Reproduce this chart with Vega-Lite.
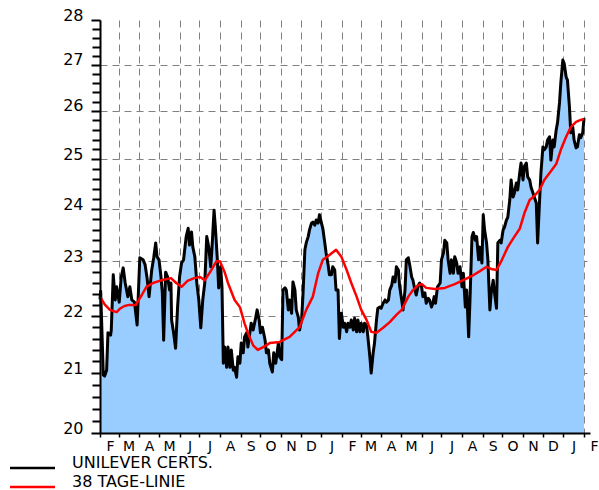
{
  "$schema": "https://vega.github.io/schema/vega-lite/v6.json",
  "autosize": {"type": "none"},
  "padding": {"left": 100, "top": 20, "right": 9, "bottom": 57},
  "width": 490,
  "height": 413,
  "background": "white",
  "config": {"view": {"stroke": null}},
  "datasets": {
    "price": [
      {"date": "2010-02-01", "value": 22.30}, {"date": "2010-02-02", "value": 22.45}, {"date": "2010-02-06", "value": 20.97},
      {"date": "2010-02-08", "value": 20.95}, {"date": "2010-02-11", "value": 21.05}, {"date": "2010-02-13", "value": 21.70},
      {"date": "2010-02-17", "value": 21.66}, {"date": "2010-02-18", "value": 21.75}, {"date": "2010-02-21", "value": 22.75},
      {"date": "2010-02-23", "value": 22.43}, {"date": "2010-02-24", "value": 22.29}, {"date": "2010-02-26", "value": 22.53},
      {"date": "2010-03-02", "value": 22.25}, {"date": "2010-03-05", "value": 22.71}, {"date": "2010-03-08", "value": 22.88},
      {"date": "2010-03-11", "value": 22.60}, {"date": "2010-03-15", "value": 22.35}, {"date": "2010-03-18", "value": 22.53},
      {"date": "2010-03-21", "value": 22.29}, {"date": "2010-03-25", "value": 22.25}, {"date": "2010-03-29", "value": 21.84},
      {"date": "2010-04-02", "value": 23.07}, {"date": "2010-04-07", "value": 23.03}, {"date": "2010-04-10", "value": 22.94},
      {"date": "2010-04-13", "value": 22.69}, {"date": "2010-04-16", "value": 22.35}, {"date": "2010-04-20", "value": 22.84},
      {"date": "2010-04-23", "value": 23.07}, {"date": "2010-04-26", "value": 23.35}, {"date": "2010-04-28", "value": 23.09},
      {"date": "2010-05-01", "value": 23.03}, {"date": "2010-05-04", "value": 22.71}, {"date": "2010-05-06", "value": 22.42},
      {"date": "2010-05-08", "value": 21.57}, {"date": "2010-05-11", "value": 22.80}, {"date": "2010-05-14", "value": 22.71},
      {"date": "2010-05-17", "value": 22.47}, {"date": "2010-05-19", "value": 22.60}, {"date": "2010-05-20", "value": 21.93},
      {"date": "2010-05-23", "value": 21.70}, {"date": "2010-05-26", "value": 21.43}, {"date": "2010-05-29", "value": 22.16},
      {"date": "2010-06-01", "value": 22.71}, {"date": "2010-06-04", "value": 22.97}, {"date": "2010-06-07", "value": 23.03},
      {"date": "2010-06-11", "value": 23.47}, {"date": "2010-06-14", "value": 23.63}, {"date": "2010-06-16", "value": 23.31},
      {"date": "2010-06-19", "value": 23.56}, {"date": "2010-06-21", "value": 23.27}, {"date": "2010-06-24", "value": 23.09},
      {"date": "2010-06-27", "value": 22.60}, {"date": "2010-06-30", "value": 22.29}, {"date": "2010-07-03", "value": 21.79},
      {"date": "2010-07-06", "value": 22.29}, {"date": "2010-07-09", "value": 22.60}, {"date": "2010-07-12", "value": 23.47},
      {"date": "2010-07-15", "value": 23.27}, {"date": "2010-07-18", "value": 22.90}, {"date": "2010-07-20", "value": 23.27},
      {"date": "2010-07-23", "value": 23.98}, {"date": "2010-07-25", "value": 23.65}, {"date": "2010-07-28", "value": 23.03},
      {"date": "2010-07-30", "value": 22.51}, {"date": "2010-08-02", "value": 22.90}, {"date": "2010-08-04", "value": 22.51},
      {"date": "2010-08-06", "value": 21.17}, {"date": "2010-08-08", "value": 21.45}, {"date": "2010-08-11", "value": 21.10},
      {"date": "2010-08-13", "value": 21.45}, {"date": "2010-08-16", "value": 21.10}, {"date": "2010-08-18", "value": 21.40},
      {"date": "2010-08-21", "value": 21.05}, {"date": "2010-08-23", "value": 21.10}, {"date": "2010-08-26", "value": 20.93},
      {"date": "2010-08-28", "value": 21.28}, {"date": "2010-08-31", "value": 21.17}, {"date": "2010-09-02", "value": 21.52},
      {"date": "2010-09-05", "value": 21.35}, {"date": "2010-09-07", "value": 21.63}, {"date": "2010-09-10", "value": 21.70},
      {"date": "2010-09-12", "value": 21.45}, {"date": "2010-09-15", "value": 21.70}, {"date": "2010-09-17", "value": 21.87},
      {"date": "2010-09-20", "value": 21.75}, {"date": "2010-09-24", "value": 21.98}, {"date": "2010-09-26", "value": 22.11},
      {"date": "2010-09-29", "value": 21.93}, {"date": "2010-10-01", "value": 21.70}, {"date": "2010-10-04", "value": 21.80},
      {"date": "2010-10-07", "value": 21.63}, {"date": "2010-10-08", "value": 21.57}, {"date": "2010-10-10", "value": 21.35},
      {"date": "2010-10-13", "value": 21.40}, {"date": "2010-10-15", "value": 21.17}, {"date": "2010-10-19", "value": 21.02},
      {"date": "2010-10-21", "value": 21.35}, {"date": "2010-10-24", "value": 21.17}, {"date": "2010-10-28", "value": 21.52},
      {"date": "2010-10-30", "value": 21.28}, {"date": "2010-11-02", "value": 21.23}, {"date": "2010-11-04", "value": 22.47},
      {"date": "2010-11-07", "value": 22.51}, {"date": "2010-11-09", "value": 22.47}, {"date": "2010-11-12", "value": 22.11},
      {"date": "2010-11-14", "value": 22.29}, {"date": "2010-11-17", "value": 22.05}, {"date": "2010-11-19", "value": 22.62},
      {"date": "2010-11-22", "value": 22.47}, {"date": "2010-11-24", "value": 22.11}, {"date": "2010-11-27", "value": 21.98},
      {"date": "2010-11-29", "value": 21.75}, {"date": "2010-12-02", "value": 21.93}, {"date": "2010-12-04", "value": 22.35},
      {"date": "2010-12-07", "value": 23.22}, {"date": "2010-12-09", "value": 23.35}, {"date": "2010-12-12", "value": 23.47},
      {"date": "2010-12-14", "value": 23.60}, {"date": "2010-12-17", "value": 23.73}, {"date": "2010-12-19", "value": 23.75},
      {"date": "2010-12-22", "value": 23.69}, {"date": "2010-12-24", "value": 23.79}, {"date": "2010-12-27", "value": 23.73},
      {"date": "2010-12-29", "value": 23.89}, {"date": "2011-01-01", "value": 23.73}, {"date": "2011-01-03", "value": 23.63},
      {"date": "2011-01-06", "value": 23.35}, {"date": "2011-01-08", "value": 23.16}, {"date": "2011-01-11", "value": 22.94},
      {"date": "2011-01-13", "value": 22.75}, {"date": "2011-01-16", "value": 22.75}, {"date": "2011-01-18", "value": 22.90},
      {"date": "2011-01-21", "value": 22.84}, {"date": "2011-01-23", "value": 22.47}, {"date": "2011-01-26", "value": 22.47},
      {"date": "2011-01-28", "value": 21.60}, {"date": "2011-01-31", "value": 22.05}, {"date": "2011-02-03", "value": 21.80},
      {"date": "2011-02-05", "value": 21.87}, {"date": "2011-02-08", "value": 21.72}, {"date": "2011-02-10", "value": 21.87},
      {"date": "2011-02-13", "value": 21.80}, {"date": "2011-02-15", "value": 21.93}, {"date": "2011-02-18", "value": 21.75},
      {"date": "2011-02-20", "value": 21.96}, {"date": "2011-02-23", "value": 21.72}, {"date": "2011-02-25", "value": 21.93},
      {"date": "2011-02-28", "value": 21.72}, {"date": "2011-03-02", "value": 21.87}, {"date": "2011-03-05", "value": 21.72},
      {"date": "2011-03-07", "value": 21.87}, {"date": "2011-03-10", "value": 21.84}, {"date": "2011-03-12", "value": 21.63},
      {"date": "2011-03-15", "value": 21.28}, {"date": "2011-03-17", "value": 21.00}, {"date": "2011-03-20", "value": 21.35},
      {"date": "2011-03-22", "value": 21.52}, {"date": "2011-03-25", "value": 21.93}, {"date": "2011-03-27", "value": 22.14},
      {"date": "2011-03-30", "value": 22.16}, {"date": "2011-04-01", "value": 22.14}, {"date": "2011-04-04", "value": 22.23},
      {"date": "2011-04-07", "value": 22.29}, {"date": "2011-04-09", "value": 22.25}, {"date": "2011-04-12", "value": 22.29},
      {"date": "2011-04-14", "value": 22.47}, {"date": "2011-04-17", "value": 22.56}, {"date": "2011-04-19", "value": 22.71},
      {"date": "2011-04-22", "value": 22.62}, {"date": "2011-04-24", "value": 22.90}, {"date": "2011-04-27", "value": 22.84},
      {"date": "2011-04-29", "value": 22.53}, {"date": "2011-05-02", "value": 22.29}, {"date": "2011-05-04", "value": 22.11},
      {"date": "2011-05-07", "value": 22.47}, {"date": "2011-05-09", "value": 23.03}, {"date": "2011-05-12", "value": 23.07},
      {"date": "2011-05-14", "value": 22.94}, {"date": "2011-05-17", "value": 22.71}, {"date": "2011-05-19", "value": 22.65},
      {"date": "2011-05-22", "value": 22.47}, {"date": "2011-05-24", "value": 22.38}, {"date": "2011-05-27", "value": 22.56},
      {"date": "2011-05-29", "value": 22.60}, {"date": "2011-06-01", "value": 22.53}, {"date": "2011-06-03", "value": 22.35},
      {"date": "2011-06-06", "value": 22.42}, {"date": "2011-06-08", "value": 22.23}, {"date": "2011-06-11", "value": 22.32},
      {"date": "2011-06-13", "value": 22.29}, {"date": "2011-06-16", "value": 22.16}, {"date": "2011-06-18", "value": 22.23},
      {"date": "2011-06-20", "value": 22.35}, {"date": "2011-06-22", "value": 22.23}, {"date": "2011-06-25", "value": 22.53},
      {"date": "2011-06-29", "value": 22.60}, {"date": "2011-07-01", "value": 23.03}, {"date": "2011-07-04", "value": 23.16},
      {"date": "2011-07-06", "value": 23.40}, {"date": "2011-07-09", "value": 23.35}, {"date": "2011-07-11", "value": 23.03},
      {"date": "2011-07-14", "value": 22.78}, {"date": "2011-07-16", "value": 23.03}, {"date": "2011-07-19", "value": 22.78},
      {"date": "2011-07-21", "value": 23.09}, {"date": "2011-07-24", "value": 22.97}, {"date": "2011-07-26", "value": 22.78},
      {"date": "2011-07-29", "value": 22.90}, {"date": "2011-08-01", "value": 22.53}, {"date": "2011-08-03", "value": 22.78},
      {"date": "2011-08-06", "value": 22.16}, {"date": "2011-08-08", "value": 22.47}, {"date": "2011-08-11", "value": 21.63},
      {"date": "2011-08-13", "value": 22.29}, {"date": "2011-08-16", "value": 23.47}, {"date": "2011-08-18", "value": 23.55},
      {"date": "2011-08-21", "value": 23.40}, {"date": "2011-08-23", "value": 23.47}, {"date": "2011-08-26", "value": 23.03},
      {"date": "2011-08-28", "value": 23.27}, {"date": "2011-08-31", "value": 22.97}, {"date": "2011-09-02", "value": 23.89},
      {"date": "2011-09-04", "value": 23.60}, {"date": "2011-09-07", "value": 23.35}, {"date": "2011-09-09", "value": 23.03},
      {"date": "2011-09-12", "value": 22.11}, {"date": "2011-09-14", "value": 22.42}, {"date": "2011-09-17", "value": 22.65},
      {"date": "2011-09-19", "value": 22.42}, {"date": "2011-09-22", "value": 22.14}, {"date": "2011-09-24", "value": 23.35},
      {"date": "2011-09-27", "value": 23.40}, {"date": "2011-09-29", "value": 23.35}, {"date": "2011-10-02", "value": 23.60},
      {"date": "2011-10-04", "value": 23.65}, {"date": "2011-10-07", "value": 23.79}, {"date": "2011-10-09", "value": 23.84},
      {"date": "2011-10-12", "value": 24.18}, {"date": "2011-10-14", "value": 24.58}, {"date": "2011-10-17", "value": 24.24},
      {"date": "2011-10-19", "value": 24.32}, {"date": "2011-10-22", "value": 24.52}, {"date": "2011-10-24", "value": 24.38},
      {"date": "2011-10-27", "value": 24.72}, {"date": "2011-10-29", "value": 24.92}, {"date": "2011-11-01", "value": 24.58},
      {"date": "2011-11-03", "value": 24.84}, {"date": "2011-11-06", "value": 24.92}, {"date": "2011-11-08", "value": 24.64},
      {"date": "2011-11-11", "value": 24.58}, {"date": "2011-11-13", "value": 24.44}, {"date": "2011-11-16", "value": 24.32},
      {"date": "2011-11-18", "value": 24.24}, {"date": "2011-11-21", "value": 24.12}, {"date": "2011-11-23", "value": 23.35},
      {"date": "2011-11-26", "value": 24.18}, {"date": "2011-11-28", "value": 24.72}, {"date": "2011-12-01", "value": 25.25},
      {"date": "2011-12-03", "value": 25.19}, {"date": "2011-12-06", "value": 25.25}, {"date": "2011-12-08", "value": 25.39},
      {"date": "2011-12-11", "value": 25.46}, {"date": "2011-12-13", "value": 24.98}, {"date": "2011-12-16", "value": 25.39},
      {"date": "2011-12-18", "value": 25.25}, {"date": "2011-12-21", "value": 25.60}, {"date": "2011-12-23", "value": 25.75},
      {"date": "2011-12-26", "value": 26.17}, {"date": "2011-12-28", "value": 26.60}, {"date": "2011-12-31", "value": 27.10},
      {"date": "2012-01-02", "value": 27.03}, {"date": "2012-01-05", "value": 26.73}, {"date": "2012-01-07", "value": 26.66},
      {"date": "2012-01-10", "value": 26.08}, {"date": "2012-01-12", "value": 25.54}, {"date": "2012-01-15", "value": 25.66},
      {"date": "2012-01-17", "value": 25.39}, {"date": "2012-01-20", "value": 25.23}, {"date": "2012-01-22", "value": 25.25},
      {"date": "2012-01-25", "value": 25.50}, {"date": "2012-01-27", "value": 25.44}, {"date": "2012-01-30", "value": 25.54},
      {"date": "2012-02-01", "value": 25.85}
    ],
    "ma": [
      {"date": "2010-02-01", "value": 22.35}, {"date": "2010-02-08", "value": 22.21}, {"date": "2010-02-16", "value": 22.11},
      {"date": "2010-02-26", "value": 22.07}, {"date": "2010-03-04", "value": 22.14}, {"date": "2010-03-10", "value": 22.18},
      {"date": "2010-03-17", "value": 22.20}, {"date": "2010-03-27", "value": 22.20}, {"date": "2010-04-05", "value": 22.38},
      {"date": "2010-04-12", "value": 22.53}, {"date": "2010-04-22", "value": 22.60}, {"date": "2010-05-02", "value": 22.64},
      {"date": "2010-05-11", "value": 22.67}, {"date": "2010-05-19", "value": 22.69}, {"date": "2010-05-27", "value": 22.60},
      {"date": "2010-06-04", "value": 22.53}, {"date": "2010-06-13", "value": 22.64}, {"date": "2010-06-23", "value": 22.69},
      {"date": "2010-07-02", "value": 22.71}, {"date": "2010-07-09", "value": 22.65}, {"date": "2010-07-17", "value": 22.80},
      {"date": "2010-07-27", "value": 23.01}, {"date": "2010-08-01", "value": 23.00}, {"date": "2010-08-08", "value": 22.80},
      {"date": "2010-08-13", "value": 22.60}, {"date": "2010-08-23", "value": 22.29}, {"date": "2010-08-31", "value": 22.16},
      {"date": "2010-09-07", "value": 21.87}, {"date": "2010-09-12", "value": 21.70}, {"date": "2010-09-20", "value": 21.48},
      {"date": "2010-09-27", "value": 21.40}, {"date": "2010-10-05", "value": 21.45}, {"date": "2010-10-15", "value": 21.52},
      {"date": "2010-10-30", "value": 21.54}, {"date": "2010-11-14", "value": 21.63}, {"date": "2010-11-29", "value": 21.80},
      {"date": "2010-12-09", "value": 22.11}, {"date": "2010-12-19", "value": 22.35}, {"date": "2010-12-27", "value": 22.78},
      {"date": "2011-01-03", "value": 23.03}, {"date": "2011-01-13", "value": 23.12}, {"date": "2011-01-23", "value": 23.22},
      {"date": "2011-01-31", "value": 23.09}, {"date": "2011-02-08", "value": 22.84}, {"date": "2011-02-15", "value": 22.60},
      {"date": "2011-02-23", "value": 22.35}, {"date": "2011-03-02", "value": 22.11}, {"date": "2011-03-10", "value": 21.93},
      {"date": "2011-03-17", "value": 21.72}, {"date": "2011-03-25", "value": 21.70}, {"date": "2011-04-04", "value": 21.79},
      {"date": "2011-04-14", "value": 21.89}, {"date": "2011-04-24", "value": 22.02}, {"date": "2011-05-02", "value": 22.11},
      {"date": "2011-05-12", "value": 22.35}, {"date": "2011-05-19", "value": 22.47}, {"date": "2011-05-27", "value": 22.56},
      {"date": "2011-06-01", "value": 22.58}, {"date": "2011-06-08", "value": 22.51}, {"date": "2011-06-21", "value": 22.49},
      {"date": "2011-07-06", "value": 22.51}, {"date": "2011-07-21", "value": 22.58}, {"date": "2011-08-06", "value": 22.67},
      {"date": "2011-08-16", "value": 22.73}, {"date": "2011-08-28", "value": 22.82}, {"date": "2011-09-07", "value": 22.90},
      {"date": "2011-09-14", "value": 22.86}, {"date": "2011-09-22", "value": 22.84}, {"date": "2011-09-29", "value": 23.00},
      {"date": "2011-10-09", "value": 23.27}, {"date": "2011-10-19", "value": 23.47}, {"date": "2011-10-27", "value": 23.62},
      {"date": "2011-11-03", "value": 23.92}, {"date": "2011-11-11", "value": 24.18}, {"date": "2011-11-18", "value": 24.26},
      {"date": "2011-11-26", "value": 24.38}, {"date": "2011-12-03", "value": 24.58}, {"date": "2011-12-11", "value": 24.72},
      {"date": "2011-12-21", "value": 24.90}, {"date": "2011-12-28", "value": 25.19}, {"date": "2012-01-05", "value": 25.46},
      {"date": "2012-01-12", "value": 25.66}, {"date": "2012-01-20", "value": 25.77}, {"date": "2012-01-27", "value": 25.81},
      {"date": "2012-02-01", "value": 25.83}
    ]
  },
  "resolve": {"axis": {"x": "independent", "y": "independent"}},
  "layer": [
    {
      "data": {"name": "price"},
      "mark": {"type": "area", "color": "#99ccff"},
      "encoding": {
        "x": {
          "field": "date", "type": "temporal",
          "scale": {"type": "utc", "domain": [{"year": 2010, "month": 2, "date": 1, "utc": true}, {"year": 2012, "month": 2, "date": 10, "utc": true}]},
          "axis": {"orient": "bottom", "grid": true, "gridDash": [7, 5], "gridColor": "#808080", "gridWidth": 1, "gridOpacity": 1,
                   "domain": false, "ticks": false, "labels": false, "title": null,
                   "tickCount": {"interval": "month", "step": 1}, "zindex": 0}
        },
        "y": {
          "field": "value", "type": "quantitative",
          "scale": {"type": "log", "domain": [20, 28], "nice": false},
          "axis": {"orient": "left", "values": [21, 22, 23, 24, 25, 26, 27], "grid": true, "gridDash": [7, 5], "gridColor": "#808080",
                   "gridWidth": 1, "gridOpacity": 1, "domain": false, "ticks": false, "labels": false, "title": null, "zindex": 0}
        },
        "y2": {"datum": 20}
      }
    },
    {
      "data": {"name": "price"},
      "mark": {"type": "line", "strokeWidth": 3, "strokeJoin": "round"},
      "encoding": {
        "x": {
          "field": "date", "type": "temporal",
          "axis": {"orient": "bottom", "grid": false, "domain": true, "domainColor": "black", "domainWidth": 2,
                   "ticks": true, "tickSize": 4, "tickColor": "black", "tickWidth": 1.5,
                   "tickCount": {"interval": "month", "step": 1},
                   "labelExpr": "slice(utcFormat(datum.value, '%b'), 0, 1)",
                   "labelOffset": 10, "labelPadding": 2, "labelFont": "DejaVu Sans", "labelFontSize": 14, "labelColor": "black",
                   "labelFlush": false, "labelOverlap": false, "labelBound": false, "title": null, "zindex": 1}
        },
        "y": {
          "field": "value", "type": "quantitative",
          "axis": {"orient": "left", "values": [20, 21, 22, 23, 24, 25, 26, 27, 28],
                   "format": "d",
                   "grid": false, "domain": true, "domainColor": "black", "domainWidth": 2,
                   "ticks": true, "tickSize": 9, "tickColor": "black", "tickWidth": 2,
                   "labelPadding": 8, "labelFont": "DejaVu Sans", "labelFontSize": 16, "labelColor": "black",
                   "labelBaseline": "alphabetic", "labelOverlap": false, "labelFlush": false, "title": null, "zindex": 1}
        },
        "color": {
          "datum": "UNILEVER CERTS.", "type": "nominal",
          "scale": {"domain": ["UNILEVER CERTS.", "38 TAGE-LINIE"], "range": ["#000000", "#ff0000"]},
          "legend": {"orient": "none", "legendX": -75.5, "legendY": 440, "title": null, "padding": 0,
                     "symbolType": "M-5,0L5,0", "symbolSize": 81, "symbolStrokeWidth": 2.5,
                     "labelFont": "DejaVu Sans", "labelFontSize": 16, "labelColor": "black", "labelBaseline": "alphabetic",
                     "labelOffset": 31.5, "labelLimit": 400, "rowPadding": 1}
        }
      }
    },
    {
      "data": {"name": "ma"},
      "mark": {"type": "line", "strokeWidth": 2.5, "strokeJoin": "round"},
      "encoding": {
        "x": {"field": "date", "type": "temporal", "axis": null},
        "y": {"field": "value", "type": "quantitative",
              "axis": {"orient": "left",
                       "values": [20.2, 20.4, 20.6, 20.8, 21.2, 21.4, 21.6, 21.8, 22.2, 22.4, 22.6, 22.8, 23.2, 23.4, 23.6, 23.8, 24.2, 24.4, 24.6, 24.8, 25.2, 25.4, 25.6, 25.8, 26.2, 26.4, 26.6, 26.8, 27.2, 27.4, 27.6, 27.8],
                       "tickCount": 100, "grid": false, "domain": false, "labels": false, "ticks": true,
                       "tickSize": 8, "tickColor": "#000000", "tickOpacity": 1, "tickWidth": 2, "title": null, "zindex": 2}},
        "color": {"datum": "38 TAGE-LINIE", "type": "nominal"}
      }
    },
    {
      "mark": {"type": "rule", "color": "black", "strokeWidth": 2},
      "encoding": {"y": {"datum": 28, "axis": null}}
    }
  ]
}
